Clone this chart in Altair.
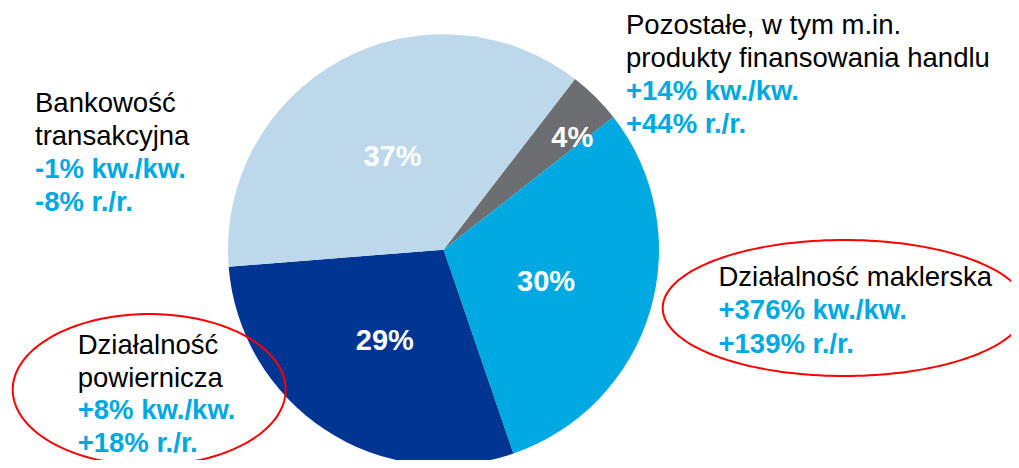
import math
import altair as alt
import pandas as pd

# ---------------- data ----------------
segments = ["Pozostałe", "Działalność maklerska", "Działalność powiernicza", "Bankowość transakcyjna"]
shares = [4.0, 30.3, 29.0, 36.7]
share_labels = ["4%", "30%", "29%", "37%"]

name_lines = [
    ["Pozostałe, w tym m.in.", "produkty finansowania handlu"],
    ["Działalność maklerska"],
    ["Działalność", "powiernicza"],
    ["Bankowość", "transakcyjna"],
]
change_lines = [
    ["+14% kw./kw.", "+44% r./r."],
    ["+376% kw./kw.", "+139% r./r."],
    ["+8% kw./kw.", "+18% r./r."],
    ["-1% kw./kw.", "-8% r./r."],
]

# ---------------- style / layout ----------------
colors = ["#6D6E71", "#00A9E2", "#003594", "#BDD7EB"]
BLUE_TXT = "#00A9E2"
FONT = "Liberation Sans"
W, H = 1003, 452
OFF = 8  # page margin
CX, CY, R = 443.5 - OFF, 249.7 - OFF, 215.5
START = math.radians(37.6)

# text block anchors (left x, first baseline y, line spacing) in page pixels
anchors = [(626, 33.5, 33), (718.5, 285.5, 33.6), (77.7, 354, 32.7), (35, 111.7, 33.2)]

pie_df = pd.DataFrame({
    "seg": segments,
    "share": shares,
    "label": share_labels,
    "idx": list(range(len(segments))),
})

rows = []
for i, (nl, cl) in enumerate(zip(name_lines, change_lines)):
    x0, y0, lh = anchors[i]
    k = 0
    for t in nl:
        rows.append({"txt": t, "px": x0 - OFF, "py": y0 + k * lh - OFF, "kind": "name"})
        k += 1
    for t in cl:
        rows.append({"txt": t, "px": x0 - OFF, "py": y0 + k * lh - OFF, "kind": "chg"})
        k += 1
ann_df = pd.DataFrame(rows)

theta_scale = alt.Scale(domain=[0, sum(shares)], range=[START, START + 2 * math.pi])

base = alt.Chart(pie_df).transform_window(
    c1="sum(share)", sort=[alt.SortField("idx")], frame=[None, 0]
).transform_calculate(
    c0="datum.c1 - datum.share",
    cm="datum.c1 - datum.share / 2",
)

arcs = base.mark_arc(outerRadius=R).encode(
    theta=alt.Theta("c0:Q", scale=theta_scale, stack=None),
    theta2="c1:Q",
    color=alt.Color("seg:N", scale=alt.Scale(domain=segments, range=colors), legend=None),
    x=alt.value(CX),
    y=alt.value(CY),
)

label_enc = dict(
    theta=alt.Theta("cm:Q", scale=theta_scale, stack=None),
    text="label:N",
    x=alt.value(CX),
    y=alt.value(CY),
)
pct_big = base.transform_filter("datum.share >= 10").mark_text(
    font=FONT, fontSize=29, fontWeight="bold", color="white",
    align="center", baseline="middle", radius=107, dy=1.5).encode(**label_enc)
pct_small = base.transform_filter("datum.share < 10").mark_text(
    font=FONT, fontSize=29, fontWeight="bold", color="white",
    align="center", baseline="middle", radius=170, dx=9, dy=9).encode(**label_enc)

ann_base = alt.Chart(ann_df).encode(
    x=alt.X("px:Q", scale=None, axis=None),
    y=alt.Y("py:Q", scale=None, axis=None),
    text="txt:N",
)
names_txt = ann_base.transform_filter(alt.datum.kind == "name").mark_text(
    font=FONT, fontSize=27.5, color="#000000", align="left", baseline="alphabetic")
chg_txt = ann_base.transform_filter(alt.datum.kind == "chg").mark_text(
    font=FONT, fontSize=27.5, fontWeight="bold", color=BLUE_TXT, align="left", baseline="alphabetic")


def ellipse(cx, cy, rx, ry):
    return alt.Chart(alt.sequence(0, 362, 2, as_="deg")).transform_calculate(
        ex=f"{cx - OFF} + {rx} * cos(datum.deg * PI / 180)",
        ey=f"{cy - OFF} + {ry} * sin(datum.deg * PI / 180)",
    ).mark_line(color="#FF0000", strokeWidth=2).encode(
        x=alt.X("ex:Q", scale=None, axis=None),
        y=alt.Y("ey:Q", scale=None, axis=None),
        order=alt.Order("deg:Q"),
    )


chart = alt.layer(
    arcs, pct_big, pct_small, names_txt, chg_txt,
    ellipse(149.2, 389.7, 136.5, 75.7),
    ellipse(844.3, 308.0, 181.6, 68.0),
).properties(
    width=W, height=H,
    autosize=alt.AutoSizeParams(type="fit", contains="padding"),
    padding=0,
).configure_view(stroke=None)

chart.save("out.html", embed_options={"renderer": "svg", "actions": False})
